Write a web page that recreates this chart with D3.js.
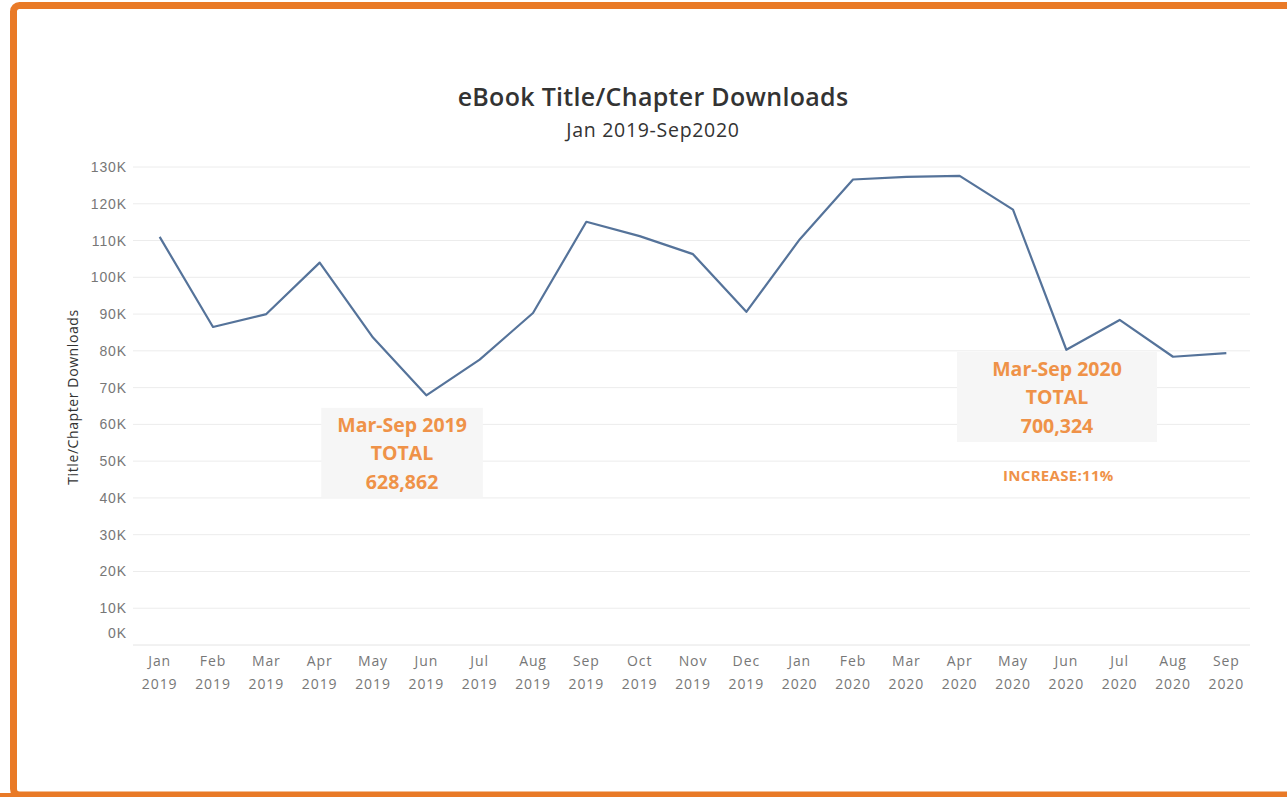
<!DOCTYPE html>
<html><head><meta charset="utf-8">
<script src="https://cdn.jsdelivr.net/npm/d3@7"></script>
<style>
html,body{margin:0;padding:0;background:#fff;}
svg{display:block;font-family:"Open Sans","Noto Sans",sans-serif;}
</style></head>
<body>
<svg id="c" width="1287" height="797"></svg>
<script>
const months = ["Jan","Feb","Mar","Apr","May","Jun","Jul","Aug","Sep","Oct","Nov","Dec","Jan","Feb","Mar","Apr","May","Jun","Jul","Aug","Sep"];
const years = ["2019","2019","2019","2019","2019","2019","2019","2019","2019","2019","2019","2019","2020","2020","2020","2020","2020","2020","2020","2020","2020"];
const downloads = [111000,86500,90000,104000,83600,67900,77600,90300,115100,111200,106300,90600,110300,126600,127300,127600,118400,80300,88400,78400,79400];
const yTicks = [0,10000,20000,30000,40000,50000,60000,70000,80000,90000,100000,110000,120000,130000];
const notes = [
  {lines:["Mar-Sep 2019","TOTAL","628,862"], i0:3.03, i1:6.06, top:64500, bottom:40200},
  {lines:["Mar-Sep 2020","TOTAL","700,324"], i0:14.95, i1:18.7, top:79700, bottom:55200}
];
const increaseLabel = "INCREASE:11%";

const svg = d3.select("#c");
const W = 1287, H = 797;
const orange = "#ef9248";

// orange frame
svg.append("rect").attr("x",13.5).attr("y",5.5).attr("width",W+20).attr("height",H-7.5)
  .attr("rx",6).attr("fill","none").attr("stroke","#e97a27").attr("stroke-width",7);
svg.append("rect").attr("x",0).attr("y",H-4).attr("width",W).attr("height",4).attr("fill","#e97a27");

const keys = months.map((m,i)=>i);
const x = d3.scalePoint().domain(keys).range([133,1253]).padding(0.5);
const xi = i => x(0) + i*x.step();
const y = d3.scaleLinear().domain([0,130000]).range([645,167]);

// gridlines
svg.append("g").selectAll("line").data(yTicks.filter(d=>d>0)).join("line")
  .attr("x1",133).attr("x2",1250).attr("y1",d=>y(d)).attr("y2",d=>y(d))
  .attr("stroke","#ececec").attr("stroke-width",1);
svg.append("line").attr("x1",133).attr("x2",1250).attr("y1",645).attr("y2",645)
  .attr("stroke","#e4e4e4");

// y axis labels
const ya = svg.append("g").attr("transform","translate(127,0)")
  .call(d3.axisLeft(y).tickValues(yTicks).tickSize(0).tickPadding(0).tickFormat(d=>(d/1000)+"K"));
ya.select(".domain").remove();
ya.selectAll("text").attr("fill","#777").style("font-size","14px").style("letter-spacing","0.9px");
ya.selectAll(".tick").filter(d=>d===0).select("text").attr("dy","-0.55em");

// x axis labels
const xg = svg.append("g");
xg.selectAll("text.m").data(keys).join("text").attr("class","m")
  .attr("x",d=>x(d)).attr("y",666).attr("text-anchor","middle")
  .attr("fill","#777").style("font-size","14px").style("letter-spacing","0.9px").text(d=>months[d]);
xg.selectAll("text.yr").data(keys).join("text").attr("class","yr")
  .attr("x",d=>x(d)).attr("y",689).attr("text-anchor","middle")
  .attr("fill","#777").style("font-size","14px").style("letter-spacing","0.9px").text(d=>years[d]);

// annotation boxes
notes.forEach(n=>{
  const x0 = xi(n.i0), x1 = xi(n.i1);
  svg.append("rect").attr("x",x0).attr("y",y(n.top)).attr("width",x1-x0).attr("height",y(n.bottom)-y(n.top))
    .attr("fill","#f6f6f6");
  const cx = (x0+x1)/2;
  n.lines.forEach((l,k)=>{
    svg.append("text").attr("x",cx).attr("y",y(n.top)+24+k*28.5).attr("text-anchor","middle")
      .attr("fill",orange).style("font-weight","700").style("font-size","19.5px").text(l);
  });
});
svg.append("text").attr("x",xi(16.85)).attr("y",y(45000)+1).attr("text-anchor","middle")
  .attr("fill",orange).style("font-weight","700").style("font-size","15px").style("letter-spacing","0.3px").text(increaseLabel);

// line
svg.append("path").datum(downloads)
  .attr("d",d3.line().x((d,i)=>x(i)).y(d=>y(d)))
  .attr("fill","none").attr("stroke","#55739a").attr("stroke-width",2.2).attr("stroke-linejoin","round");

// titles
svg.append("text").attr("x",653).attr("y",106).attr("text-anchor","middle")
  .attr("fill","#333").style("font-size","25px").style("font-weight","600").style("letter-spacing","0.3px").text("eBook Title/Chapter Downloads");
svg.append("text").attr("x",653).attr("y",137).attr("text-anchor","middle")
  .attr("fill","#333").style("font-size","19.5px").style("font-weight","500").style("letter-spacing","0.7px").text("Jan 2019-Sep2020");
svg.append("text").attr("transform","translate(78,397) rotate(-90)").attr("text-anchor","middle")
  .attr("fill","#333").style("font-size","14px").style("font-weight","500").style("letter-spacing","0.6px").text("Title/Chapter Downloads");
</script>
</body></html>
